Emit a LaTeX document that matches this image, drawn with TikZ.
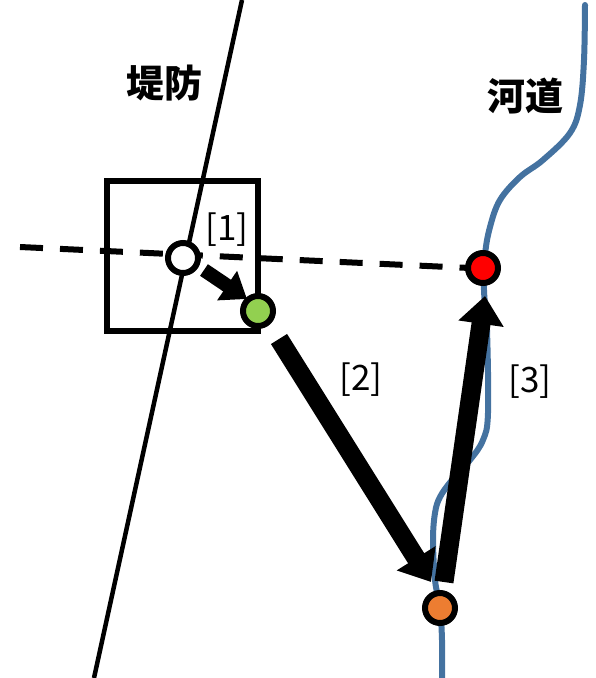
\documentclass[tikz,border=0pt]{standalone}
\usepackage{fontspec}
\newfontfamily\cjk{Noto Sans CJK JP}
\usetikzlibrary{arrows.meta}
\definecolor{river}{RGB}{68,114,160}
\definecolor{pgreen}{RGB}{146,208,80}
\definecolor{porange}{RGB}{237,125,49}
\tikzset{
  pt/.style={circle,draw=black,line width=6pt,minimum size=30pt,inner sep=0pt},
  bigarrow/.style={line width=19pt,-{Triangle[width=44pt,length=28pt]}},
  lab/.style={font=\cjk\bfseries\fontsize{38}{40}\selectfont},
  num/.style={font=\cjk\fontsize{35}{38}\selectfont},
}
\begin{document}
\begin{tikzpicture}[x=1pt,y=-1pt]
\useasboundingbox (0,0) rectangle (596,678);
% levee
\coordinate (lt) at (242,0);
\coordinate (lb) at (94,678);
\draw[line width=4.5pt] (lt) -- (lb);
% river
\draw[river,line width=6pt,line cap=round] plot[smooth,tension=0.6] coordinates {
(585,5) (584,60) (580,105) (570,133) (543,160) (520,177) (500,200) (490,227) (485,255)
(484,290) (487,330) (488,413) (483,440) (470,460) (452,480) (440,497) (435,513) (433,540)
(435,580) (440,608) (442,640) (442,678)};
% dashed line
\coordinate (d0) at (20,247);
\coordinate (d1) at (470,268);
\draw[line width=6pt,dash pattern=on 23pt off 17pt] (d0) -- (d1);
% square
\draw[line width=6pt] (107,181) rectangle (258,331);
% points
\node[pt,fill=white] (w) at (183,258) {};
\node[pt,fill=pgreen] (g) at (258,311) {};
\node[pt,fill=red] (r) at (483,268) {};
\node[pt,fill=porange] (o) at (440,608) {};
% arrows
\coordinate (a1s) at (204,270);
\coordinate (a1e) at (247,299);
\coordinate (a2s) at (279,339);
\coordinate (a2e) at (431,582);
\coordinate (a3s) at (444,582);
\coordinate (a3e) at (485,296);
\draw[line width=14pt,-{Triangle[width=34pt,length=24pt]}] (a1s) -- (a1e);
\draw[bigarrow] (a2s) -- (a2e);
\draw[bigarrow] (a3s) -- (a3e);
% labels
\node[lab] (t1) at (164,83) {堤防};
\node[lab] (t2) at (525,96) {河道};
\node[num] (n1) at (227,230) {[1]};
\node[num] (n2) at (361,380) {[2]};
\node[num] (n3) at (530,382) {[3]};
\end{tikzpicture}
\end{document}
